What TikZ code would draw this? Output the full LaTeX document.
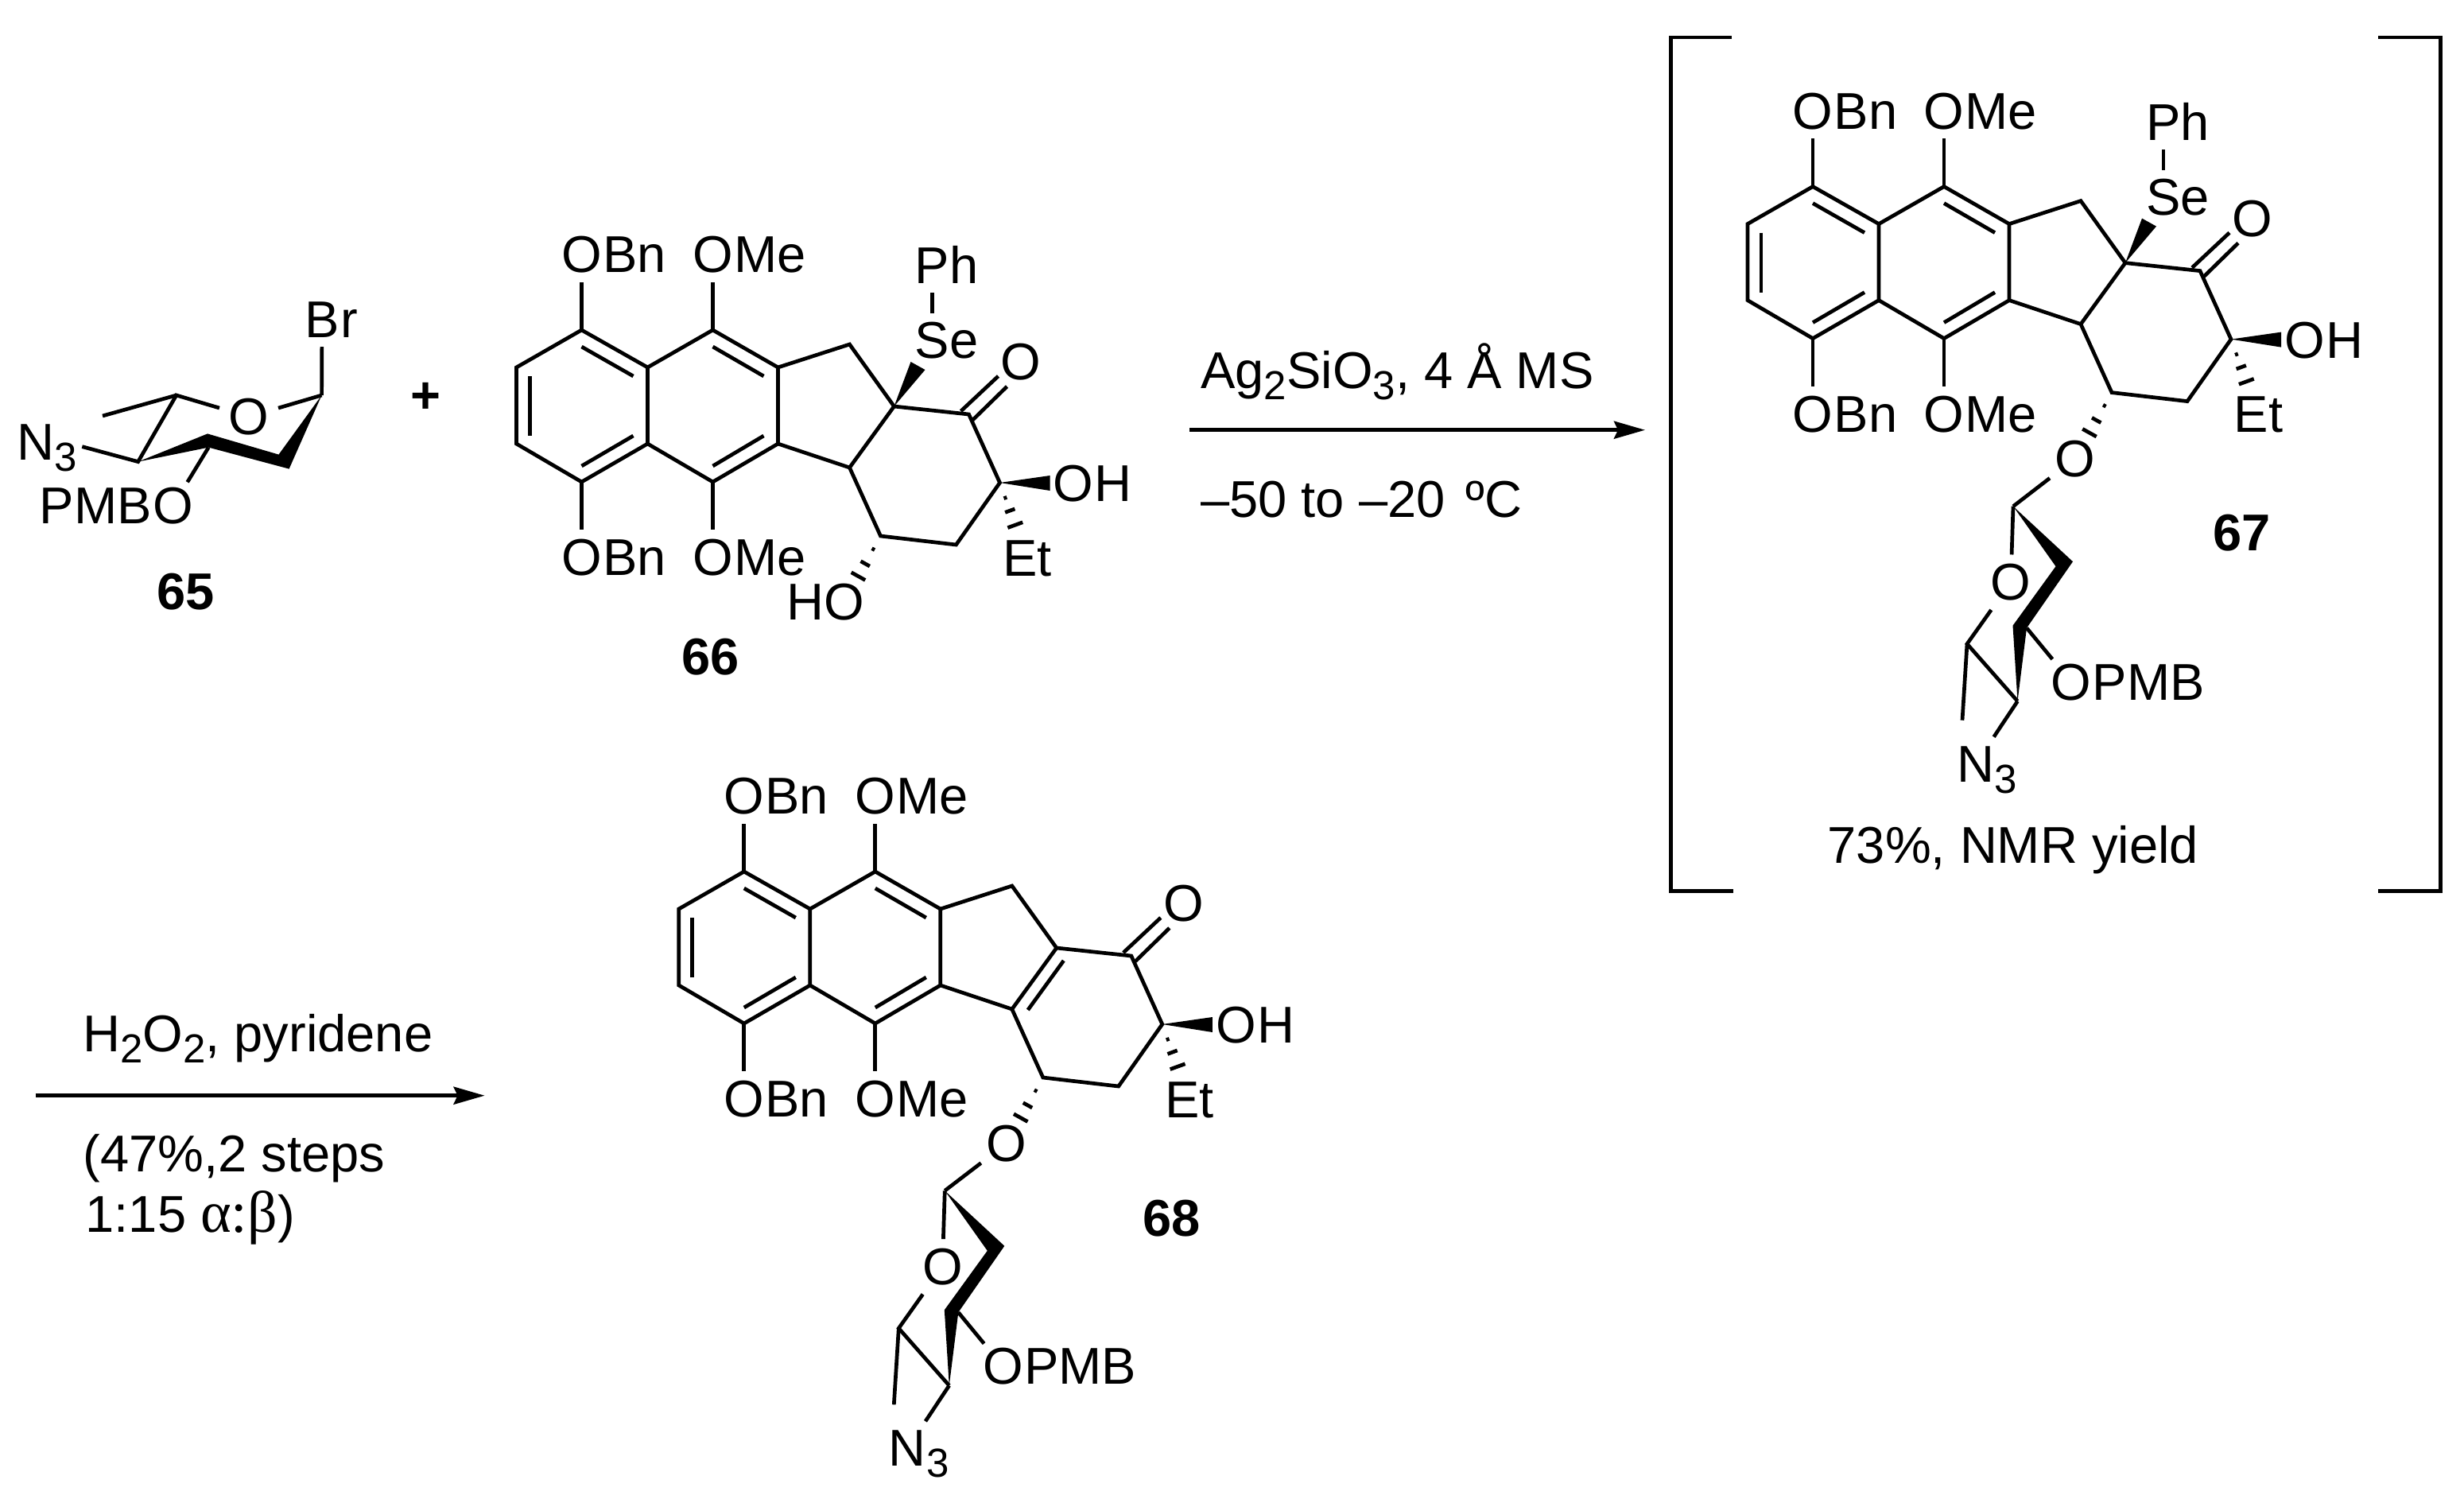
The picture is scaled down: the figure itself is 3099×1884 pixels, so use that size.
\documentclass[tikz,border=0pt]{standalone}
\usepackage{fontspec}
\setmainfont{Liberation Sans}
\newfontfamily\greekfont{Liberation Serif}
\usetikzlibrary{arrows.meta,calc,positioning}
\newcommand{\chemfont}{\fontsize{18.5}{22}\selectfont}
\newcommand{\lowidx}[1]{\raisebox{-0.14cm}{\fontsize{14.5}{14.5}\selectfont #1}}
\tikzset{
bond_line/.style={
	% all bonds and brackets
	line width=0.47mm,
	black
},
wedge_fill/.style={
	fill=black,
	draw=none
},
atom_label/.style={
	font=\chemfont,
	inner sep=0.11cm
},
tail_text/.style={
	font=\chemfont,
	inner sep=0pt
},
free_text/.style={
	font=\chemfont,
	inner sep=0pt,
	anchor=base west
},
num_label/.style={
	font=\chemfont\bfseries,
	inner sep=0pt,
	anchor=base west
},
react_arrow/.style={
	line width=0.46mm,
	-{Stealth[length=0.39cm,width=0.22cm,inset=0.05cm]}
},
% the three fused rings with the cyclohexane, placed at the upper C-OBn atom
pics/core_rings/.style={code={
	\foreach \n/\x/\y in {a/0/0,b/-82/47,c/-82/143,d/0/191,e/83/143,f/83/47,
		g/165/0,h/247/47,i/247/143,j/165/191,k/337/18,l/393/96,m/487/106,
		n/526/192,o/471/270,p/376/259,q/337/173,
		ia/0/21,ib/65/58,ic/0/171,id/65/133,ie/-65/58,if/-65/133,
		ig/165/21,ih/229/58,ii/165/171,ij/229/133,
		ca/477/102,cb/524/58,cc/492/113,cd/535/71,
		wa/589/183,wb/589/202}
		\coordinate (\n) at (\x,\y);
	\draw[bond_line] (a) -- (b) -- (c) -- (d) -- (e) -- (f) -- cycle;
	\draw[bond_line] (f) -- (g) -- (h) -- (i) -- (j) -- (e);
	\draw[bond_line] (h) -- (k) -- (l) -- (m) -- (n) -- (o) -- (p) -- (q) -- (i);
	\draw[bond_line] (l) -- (q);
	\foreach \s/\t in {ia/ib,ic/id,ie/if,ig/ih,ii/ij,ca/cb,cc/cd}
		\draw[bond_line] (\s) -- (\t);
	\node[atom_label] (oa) at (0,-95) {O};
	\node[atom_label] (og) at (165,-95) {O};
	\node[atom_label] (od) at (0,286) {O};
	\node[atom_label] (oj) at (165,286) {O};
	\node[tail_text,base right=-0.11cm of oa] (ta) {Bn};
	\node[tail_text,base right=-0.11cm of og] (tg) {Me};
	\node[tail_text,base right=-0.11cm of od] (td) {Bn};
	\node[tail_text,base right=-0.11cm of oj] (tj) {Me};
	\foreach \s/\t in {a/oa,g/og,d/od,j/oj}
		\draw[bond_line] (\s) -- (\t);
	\node[atom_label] (ok) at (552.5,40) {O};
	\node[atom_label] (oh) at (618.5,193) {O};
	\node[tail_text,base right=-0.11cm of oh] (hh) {H};
	\node[atom_label] (et) at (560.5,287) {Et};
	\node[atom_label,inner sep=0.06cm] (glyo) at (330,342) {O};
	\fill[wedge_fill] (n) -- (wa) -- (wb) -- cycle;
	\foreach \t/\w in {.2/.02,.37/.065,.56/.1}
		\draw[bond_line] ($(n)!\t!(et)!\w cm!90:(et)$) -- ($(n)!\t!(et)!\w cm!-90:(et)$);
	\foreach \t/\w in {.2/.02,.42/.065,.61/.1}
		\draw[bond_line] ($(p)!\t!(glyo)!\w cm!90:(glyo)$) -- ($(p)!\t!(glyo)!\w cm!-90:(glyo)$);
}},
% phenylselenyl group, placed at the spiro atom
pics/se_group/.style={code={
	\coordinate (sp) at (0,0);
	\coordinate (wa) at (21,-56);
	\coordinate (wb) at (39,-46);
	\coordinate (pa) at (48,-117);
	\coordinate (pb) at (48,-143);
	\node[atom_label] (se) at (66,-83) {Se};
	\node[atom_label] (ph) at (66,-178) {Ph};
	\fill[wedge_fill] (sp) -- (wa) -- (wb) -- cycle;
	\draw[bond_line] (pa) -- (pb);
}},
% the azido sugar, placed at its anomeric atom
pics/sugar_ring/.style={code={
	\foreach \n/\x/\y in {ca/0/0,wa/75/69.5,wb/17/153,cd/5.5/245,wc/-0.5/150,
		wd/53.5/75.5,ce/-58/173,me/-64/269}
		\coordinate (\n) at (\x,\y);
	\fill[wedge_fill] (ca) -- (wa) -- (wb) -- (cd) -- (wc) -- (wd) -- cycle;
	\node[atom_label] (ro) at (-3,95.5) {O};
	\draw[bond_line] (ca) -- (ro);
	\draw[bond_line] (ro) -- (ce) -- (cd);
	\draw[bond_line] (ce) -- (me);
	\node[atom_label] (nn) at (-47,324) {N};
	\node[tail_text,base right=-0.12cm of nn] (nt) {\lowidx{3}};
	\draw[bond_line] (cd) -- (nn);
	\node[atom_label,inner sep=0.05cm] (op) at (73,221) {O};
	\node[tail_text,base right=-0.05cm of op] (pm) {PMB};
	\draw[bond_line] (wb) -- (op);
}}
}
\begin{document}
\begin{tikzpicture}[x=0.01cm,y=-0.01cm]
	\useasboundingbox (0,0) rectangle (3099,1884);
	% bromide 65
	\foreach \n/\x/\y in {s1/404.6/497,s5/221.8/497,s4/173.7/580.6,
		w1/363.6/589.6,w2/262.3/562.6,w3/261/545.4,w4/350.5/571.6,
		me5/129/523,n3end/103.3/561.6}
		\coordinate (\n) at (\x,\y);
	\fill[wedge_fill] (s1) -- (w1) -- (w2) -- (s4) -- (w3) -- (w4) -- cycle;
	\node[atom_label] (ring_o) at (313,524) {O};
	\node[atom_label] (br_b) at (405,402) {B};
	\node[tail_text,base right=-0.11cm of br_b] (br_r) {r};
	\node[atom_label,inner sep=0.06cm] (pmb_o) at (217.6,636) {O};
	\node[tail_text,base left=-0.06cm of pmb_o] (pmb_t) {PMB};
	\node[free_text] (n3_t) at (20.6,578.8) {N\lowidx{3}};
	\draw[bond_line] (s1) -- (ring_o);
	\draw[bond_line] (ring_o) -- (s5) -- (s4) -- (n3end);
	\draw[bond_line] (s5) -- (me5);
	\draw[bond_line] (s1) -- (br_b);
	\draw[bond_line] (w2) -- (pmb_o);
	\node[num_label] (lab65) at (196.7,766) {65};
	\node[font=\chemfont\bfseries,inner sep=0pt] (plus) at (535,500) {+};
	% selenide 66
	\pic (m66) at (731.5,415) {core_rings};
	\pic (x66) at (m66l) {se_group};
	\node[tail_text,base left=-0.08cm of m66glyo] (m66hh) {H};
	\node[num_label] (lab66) at (856.4,848) {66};
	% first step
	\coordinate (arr1a) at (1496,540.7);
	\coordinate (arr1b) at (2069,540.7);
	\draw[react_arrow] (arr1a) -- (arr1b);
	\node[free_text] (cond1) at (1509.6,488) {Ag\lowidx{2}SiO\lowidx{3}, 4 Å MS};
	\node[free_text] (cond2) at (1509.6,650.7) {–50 to –20 \hspace{0.08cm}ºC};
	% intermediate 67 in brackets
	\pic (m67) at (2280,234.6) {core_rings};
	\pic (x67) at (m67l) {se_group};
	\pic (s67) at (2532,636.7) {sugar_ring};
	\draw[bond_line] (s67ca) -- (m67glyo);
	\node[num_label] (lab67) at (2783,692) {67};
	\node[free_text] (yield67) at (2298,1085) {73\%, NMR yield};
	\coordinate (bl1) at (2178,47);
	\coordinate (bl2) at (2101.5,47);
	\coordinate (bl3) at (2101.5,1120.7);
	\coordinate (bl4) at (2180,1120.7);
	\coordinate (br1) at (2991,47);
	\coordinate (br2) at (3069.5,47);
	\coordinate (br3) at (3069.5,1120.7);
	\coordinate (br4) at (2991,1120.7);
	\draw[bond_line] (bl1) -- (bl2) -- (bl3) -- (bl4);
	\draw[bond_line] (br1) -- (br2) -- (br3) -- (br4);
	% second step
	\coordinate (arr2a) at (44.5,1377.7);
	\coordinate (arr2b) at (609.6,1377.7);
	\draw[react_arrow] (arr2a) -- (arr2b);
	\node[free_text] (cond3) at (103.7,1322.3) {H\lowidx{2}O\lowidx{2}, pyridene};
	\node[free_text] (cond4) at (103.7,1473.3) {(47\%,2 steps};
	\node[free_text] (cond5) at (106.9,1549) {1:15 {\greekfont\fontsize{21}{22}\selectfont α:β})};
	% enone 68
	\pic (m68) at (935.8,1096) {core_rings};
	\coordinate (en1) at ($(m68a)+(402,112)$);
	\coordinate (en2) at ($(m68a)+(357,174)$);
	\draw[bond_line] (en1) -- (en2);
	\pic (s68) at (1188.3,1497.3) {sugar_ring};
	\draw[bond_line] (s68ca) -- (m68glyo);
	\node[num_label] (lab68) at (1437,1554) {68};
\end{tikzpicture}
\end{document}
